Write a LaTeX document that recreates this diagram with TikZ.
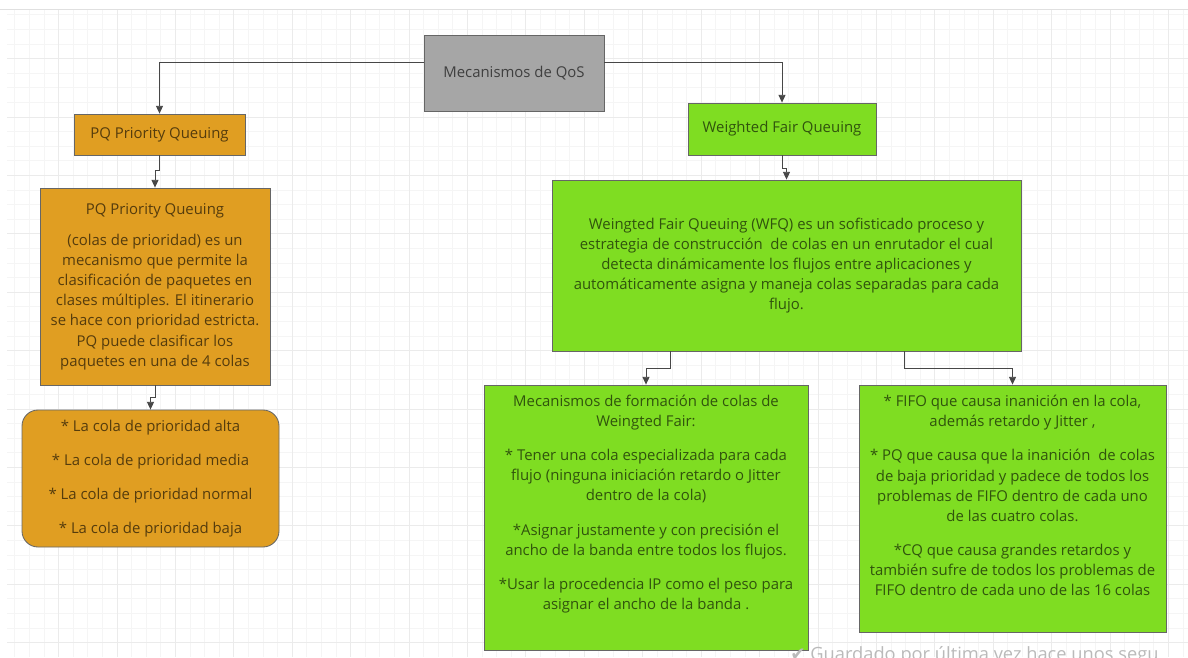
\documentclass[tikz,border=0pt]{standalone}
\usepackage{fontspec}
\setmainfont{Open Sans}
\newfontfamily\checkfont{DejaVu Sans}
\usepackage{tikz}
\usetikzlibrary{arrows.meta}
\usetikzlibrary{calc}
\definecolor{pqorange}{RGB}{224,158,34}
\definecolor{wfqgreen}{RGB}{127,221,34}
\definecolor{qosgrey}{RGB}{166,166,166}
\newcommand{\boxfont}{\fontsize{10.6}{14.3}\selectfont}
\tikzset{box/.style={draw=black!60, line width=0.6pt, inner sep=0pt, align=center, text=black, text opacity=0.62, font=\boxfont},
 boxsize/.style 2 args={minimum width=#1*0.025cm, minimum height=#2*0.025cm},
 qosbox/.style={box, fill=qosgrey},
 pqbox/.style={box, fill=pqorange},
 wfqbox/.style={box, fill=wfqgreen},
 boxtext/.style={align=center, inner sep=0pt, text=black, text opacity=0.62, font=\boxfont},
 conn/.style={draw=black!72, line width=0.6pt, -{Triangle[width=5pt,length=5.5pt]}}}

\begin{document}
\begin{tikzpicture}[x=0.025cm, y=-0.025cm]
\useasboundingbox (0,0) rectangle (1188,657);
\fill[white] (0,0) rectangle (1188,657);
\draw[black!4, step=0.365cm] (7,9) grid (1188,657);
\draw[black!8, step=1.46cm] (7,9) grid (1188,657);
\draw[black!12] (0,9) -- (1188,9);

 \node[qosbox, boxsize={180}{76}] (qos) at (514,73) {Mecanismos de QoS};
 \node[pqbox, boxsize={171}{41}] (pqh) at (159.5,134.5) {PQ Priority Queuing};
 \node[wfqbox, boxsize={188}{52}] (wfh) at (782,129) {Weighted Fair Queuing};
 \node[pqbox, boxsize={230}{197}] (pqd) at (155,286.5) {PQ Priority Queuing\\[8pt]
  (colas de prioridad) es un\\
  mecanismo que permite la\\
  clasificación de paquetes en\\
  clases múltiples. El itinerario\\
  se hace con prioridad estricta.\\
  PQ puede clasificar los\\
  paquetes en una de 4 colas};
 \node[pqbox, rounded corners=0.4cm, boxsize={257}{137}] (lst) at (150.5,478.5) {* La cola de prioridad alta\\[10pt]
  * La cola de prioridad media\\[10pt]
  * La cola de prioridad normal\\[10pt]
  * La cola de prioridad baja};
 \node[wfqbox, boxsize={469}{171}] (wfd) at (786.5,265.5) {Weingted Fair Queuing (WFQ) es un sofisticado proceso y\\
  estrategia de construcción\ \ de colas en un enrutador el cual\\
  detecta dinámicamente los flujos entre aplicaciones y\\
  automáticamente asigna y maneja colas separadas para cada\\
  flujo.};
 \node[wfqbox, boxsize={324}{265}] (mec) at (646,517.5) {};
 \node[boxtext] (mectext) at ($(mec.center)+(0,-13.5)$) {Mecanismos de formación de colas de\\
  Weingted Fair:\\[10pt]
  * Tener una cola especializada para cada\\
  flujo (ninguna iniciación retardo o Jitter\\
  dentro de la cola)\\[10pt]
  *Asignar justamente y con precisión el\\
  ancho de la banda entre todos los flujos.\\[10pt]
  *Usar la procedencia IP como el peso para\\
  asignar el ancho de la banda .};
 \node[wfqbox, boxsize={307}{247}] (fifo) at (1012.5,508.5) {};
 \node[boxtext] (fifotext) at ($(fifo.center)+(0,-13)$) {* FIFO que causa inanición en la cola,\\
  además retardo y Jitter ,\\[10pt]
  * PQ que causa que la inanición\ \ de colas\\
  de baja prioridad y padece de todos los\\
  problemas de FIFO dentro de cada uno\\
  de las cuatro colas.\\[10pt]
  *CQ que causa grandes retardos y\\
  también sufre de todos los problemas de\\
  FIFO dentro de cada uno de las 16 colas};

 \draw[conn] ($(qos.west)+(0,-11)$) -| (pqh.north);
 \draw[conn] ($(qos.east)+(0,-11)$) -| (wfh.north);
 \draw[conn] (pqh.south) -- ++(0,15) -| (pqd.north);
 \draw[conn] (pqd.south) -- ++(0,12) -| (lst.north);
 \draw[conn] (wfh.south) -- ++(0,13) -| (wfd.north);
 \draw[conn] ($(wfd.south)+(-116.5,0)$) -- ++(0,17) -| (mec.north);
 \draw[conn] ($(wfd.south)+(117.5,0)$) -- ++(0,17) -| (fifo.north);

 \node[anchor=base west, inner sep=0pt, text=black!27, font=\fontsize{13}{15}\selectfont] (saved) at (790,660) {{\checkfont ✔} Guardado por última vez hace unos segu};
\end{tikzpicture}
\end{document}
